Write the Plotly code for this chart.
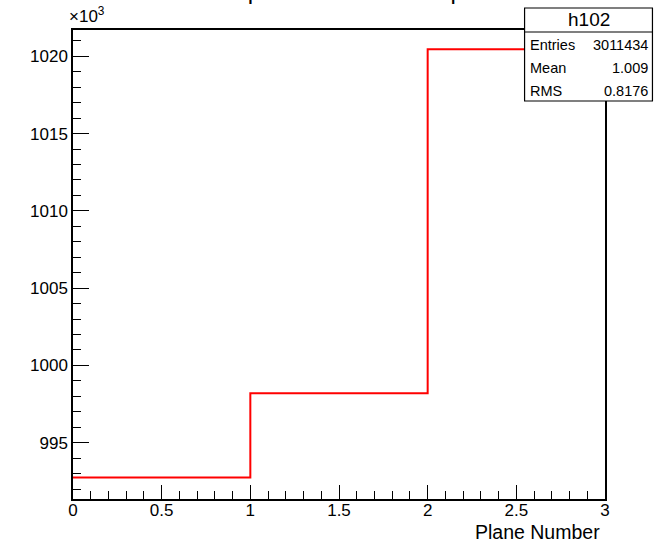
import plotly.graph_objects as go

# ---- data (values in units of 10^3) ----
bin_edges = [0, 1, 2, 3]
bin_values = [992.75, 998.2, 1020.45]
hist_name = "h102"
stats_labels = ["Entries", "Mean", "RMS"]
stats_values = ["3011434", "1.009", "0.8176"]
title_text = "Clusters per Plane for each plane"
x_title = "Plane Number"
y_range = [991.36, 1021.7]
x_range = [0, 3]

# ---- layout geometry (page pixels) ----
W, H = 655, 544
L, R, T, B = 73, 605.5, 30, 499  # plot frame in page pixels
FONT = "Liberation Sans, Arial, Helvetica, sans-serif"


def px(x):
    return (x - L) / (R - L)


def py(y):
    return (B - y) / (B - T)


x_step = list(bin_edges)
y_step = bin_values + [bin_values[-1]]

fig = go.Figure()
fig.add_trace(go.Scatter(
    x=x_step, y=y_step, mode="lines", line=dict(color="#ff0000", width=2, shape="hv"),
    hoverinfo="skip", showlegend=False,
))

fig.update_layout(
    width=W, height=H,
    margin=dict(l=L, r=W - R, t=T, b=H - B, pad=0),
    paper_bgcolor="white", plot_bgcolor="white",
    font=dict(family=FONT, color="black", size=17),
    showlegend=False,
)

axis_common = dict(
    showgrid=False, zeroline=False, showline=True, linecolor="black", linewidth=1.5,
    mirror=True, ticks="inside", tickcolor="black", tickwidth=1.2,
    tickfont=dict(family=FONT, size=17, color="black"),
)
fig.update_xaxes(range=x_range, dtick=0.5, tick0=0, ticklen=14, ticklabelstandoff=-5,
                 minor=dict(dtick=0.1, ticklen=8, ticks="inside", tickcolor="black", tickwidth=1.2),
                 **axis_common)
fig.update_yaxes(range=y_range, dtick=5, tick0=995, ticklen=16,
                 minor=dict(dtick=1, ticklen=8, ticks="inside", tickcolor="black", tickwidth=1.2),
                 **axis_common)

ann = []
# partially clipped title at the top (only the bottom of the glyphs is visible)
ann.append(dict(text=title_text, x=px(331), y=py(6.5), xref="paper", yref="paper",
                xanchor="center", yanchor="bottom", showarrow=False,
                font=dict(family=FONT, size=24, color="black")))
# x10^3 exponent label
ann.append(dict(text="×10<sup>3</sup>", x=px(67), y=py(28), xref="paper", yref="paper",
                xanchor="left", yanchor="bottom", showarrow=False,
                font=dict(family=FONT, size=17, color="black")))
# x axis title, right-aligned
ann.append(dict(text=x_title, x=px(602), y=py(532), xref="paper", yref="paper",
                xanchor="right", yanchor="middle", showarrow=False,
                font=dict(family=FONT, size=19.5, color="black")))

# stats box
bx0, bx1, by0, bsep, by1 = 525, 653, 8, 32, 101
shapes = [
    dict(type="rect", xref="paper", yref="paper", x0=px(bx0), x1=px(bx1), y0=py(by1), y1=py(by0),
         line=dict(color="black", width=1.2), fillcolor="white", layer="above"),
    dict(type="line", xref="paper", yref="paper", x0=px(bx0), x1=px(bx1), y0=py(bsep), y1=py(bsep),
         line=dict(color="black", width=1.2), layer="above"),
]
ann.append(dict(text=hist_name, x=px((bx0 + bx1) / 2), y=py(20), xref="paper", yref="paper",
                xanchor="center", yanchor="middle", showarrow=False,
                font=dict(family=FONT, size=19, color="black")))
row_y = [45, 68, 91]
for lab, val, yy in zip(stats_labels, stats_values, row_y):
    ann.append(dict(text=lab, x=px(bx0 + 3), y=py(yy), xref="paper", yref="paper",
                    xanchor="left", yanchor="middle", showarrow=False,
                    font=dict(family=FONT, size=14.5, color="black")))
    ann.append(dict(text=val, x=px(bx1 - 2), y=py(yy), xref="paper", yref="paper",
                    xanchor="right", yanchor="middle", showarrow=False,
                    font=dict(family=FONT, size=14.5, color="black")))

fig.update_layout(annotations=ann, shapes=shapes)
# remove the browser's default 8px page margin so the figure sits at the page origin
fig.write_html("out.html", config={"displayModeBar": False},
               post_script="document.body.style.margin='0';")
